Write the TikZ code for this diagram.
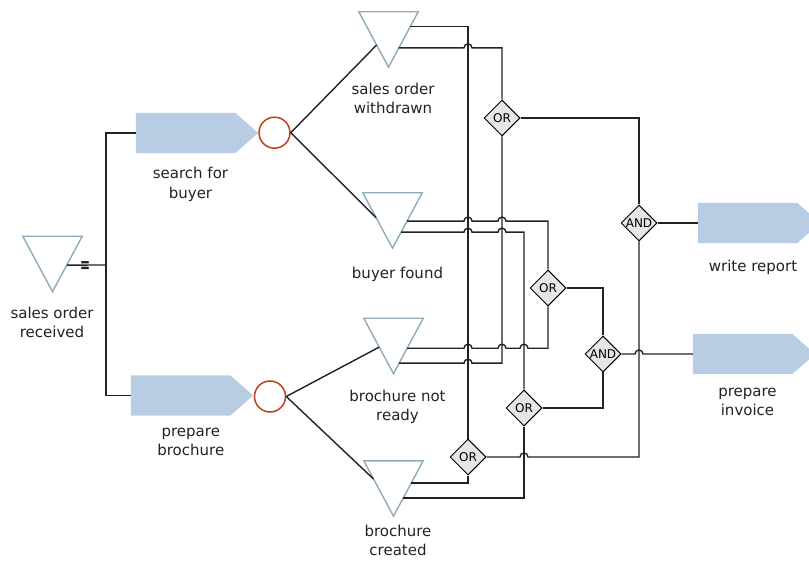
\documentclass[tikz,border=0pt]{standalone}
\usepackage{fontspec}
\usepackage{graphicx}
\setmainfont{DejaVu Sans}
\usetikzlibrary{shapes.geometric,calc,positioning}

\definecolor{evline}{HTML}{8FAAB8}
\definecolor{fnfill}{HTML}{B8CCE4}
\definecolor{cnline}{HTML}{C0401A}
\definecolor{gatefill}{HTML}{E6E6E6}
\definecolor{inktext}{HTML}{222222}

\tikzset{
  event/.style={minimum width=59pt, minimum height=55pt, inner sep=0pt},
  eventline/.style={draw=evline, line width=1.4pt, line join=miter},
  func/.style={minimum width=122pt, minimum height=40pt, inner sep=0pt},
  funcfill/.style={fill=fnfill},
  conn/.style={circle, draw=cnline, line width=1.5pt, minimum size=31pt, inner sep=0pt},
  gate/.style={diamond, draw, fill=gatefill, minimum size=36pt, inner sep=0pt,
    line width=1pt, font=\fontsize{12}{12}\selectfont},
  txt/.style={align=center, anchor=north, inner sep=0pt, text=inktext,
    font=\fontsize{15}{19.5}\selectfont, execute at begin node=\strut},
  flow/.style={line width=1.4pt, inktext}
}

\newcommand{\hop}[1]{-- ([xshift=-4pt]#1) arc[start angle=180, end angle=0, radius=4pt]}

\begin{document}
\begin{tikzpicture}[x=1pt, y=-1pt]
  \useasboundingbox (0,0) rectangle (809,561);
  \clip (0,0) rectangle (809,561);

  % events
  \node[event] (received) at (52.5,264) {};
  \node[event] (withdrawn) at (388.5,39.5) {};
  \node[event] (found) at (392.5,220.5) {};
  \node[event] (notready) at (393.5,346) {};
  \node[event] (created) at (393.5,488.5) {};
  \foreach \e in {received,withdrawn,found,notready,created}
    \draw[eventline] (\e.north west) -- (\e.north east) -- (\e.south) -- cycle;

  % functions
  \node[func] (search) at (197,133) {};
  \node[func] (brochure) at (192,395.5) {};
  \node[func] (report) at (759,223) {};
  \node[func] (invoice) at (754,354) {};
  \foreach \f in {search,brochure,report,invoice}
    \fill[funcfill] (\f.north west) -- ([xshift=-23pt]\f.north east) -- (\f.east)
      -- ([xshift=-23pt]\f.south east) -- (\f.south west) -- cycle;

  % connectors
  \node[conn] (xor1) at (274.5,132.7) {};
  \node[conn] (xor2) at (270,396.5) {};
  \node[gate] (or1) at (502,118) {OR};
  \node[gate] (or2) at (548,288) {OR};
  \node[gate] (or3) at (524,408) {OR};
  \node[gate] (or4) at (468,457) {OR};
  \node[gate] (and1) at (639,223) {AND};
  \node[gate] (and2) at (603,354) {AND};

  % labels
  \node[txt] (lbl-received) at (52,306.5) {sales order\\received};
  \node[txt] (lbl-withdrawn) at (393,82.5) {sales order\\withdrawn};
  \node[txt] (lbl-search) at (190.5,167) {search for\\buyer};
  \node[txt] (lbl-found) at (397.5,264.5) {buyer found};
  \node[txt] (lbl-notready) at (397.5,389.5) {brochure not\\ready};
  \node[txt] (lbl-created) at (398,524.5) {brochure\\created};
  \node[txt] (lbl-brochure) at (190.8,427.5) {prepare\\brochure};
  \node[txt] (lbl-report) at (753,257.5) {write report};
  \node[txt] (lbl-invoice) at (747.5,387.5) {prepare\\invoice};

  % flow
  \coordinate (fork) at (106,265);
  \draw[flow] ($(received.north east)!.52!(received.south)$) -- (fork);
  \draw[flow] (search.west) -| (fork) |- (brochure.west);
  \node[inner sep=0pt, text=inktext, font=\fontsize{15}{15}\selectfont] (eqmark) at (85.5,268)
    {\scalebox{0.8}[1.9]{=}};

  \draw[flow] (xor1.east) -- ($(withdrawn.north west)!.6!(withdrawn.south)$);
  \draw[flow] (xor1.east) -- ($(found.north west)!.45!(found.south)$);
  \draw[flow] (xor2.east) -- ($(notready.north west)!.52!(notready.south)$);
  \draw[flow] (xor2.east) -- ($(created.north west)!.33!(created.south)$);

  \coordinate (w1) at ($(withdrawn.north east)!.27!(withdrawn.south)$);
  \coordinate (w2) at ($(withdrawn.north east)!.65!(withdrawn.south)$);
  \coordinate (f1) at ($(found.north east)!.51!(found.south)$);
  \coordinate (f2) at ($(found.north east)!.71!(found.south)$);
  \coordinate (n1) at ($(notready.north east)!.54!(notready.south)$);
  \coordinate (n2) at ($(notready.north east)!.81!(notready.south)$);
  \coordinate (c1) at ($(created.north east)!.40!(created.south)$);
  \coordinate (c2) at ($(created.north east)!.67!(created.south)$);

  \draw[flow] (w1) -| (or4.north);
  \draw[flow] (w2) \hop{or4 |- w2} -| (or1.north);
  \draw[flow] (f1) \hop{or4 |- f1} \hop{or1 |- f1} -| (or2.north);
  \draw[flow] (f2) \hop{or4 |- f2} \hop{or1 |- f2} -| (or3.north);
  \draw[flow] (n1) \hop{or4 |- n1} \hop{or1 |- n1} \hop{or3 |- n1} -| (or2.south);
  \draw[flow] (n2) \hop{or4 |- n2} -| (or1.south);
  \draw[flow] (c1) -| (or4.south);
  \draw[flow] (c2) -| (or3.south);
  \draw[flow] (or1.east) -| (and1.north);
  \draw[flow] (or4.east) \hop{or3 |- or4} -| (and1.south);
  \draw[flow] (or2.east) -| (and2.north);
  \draw[flow] (or3.east) -| (and2.south);
  \draw[flow] (and1.east) -- (report.west);
  \draw[flow] (and2.east) \hop{and1 |- and2} -- (invoice.west);
\end{tikzpicture}
\end{document}
